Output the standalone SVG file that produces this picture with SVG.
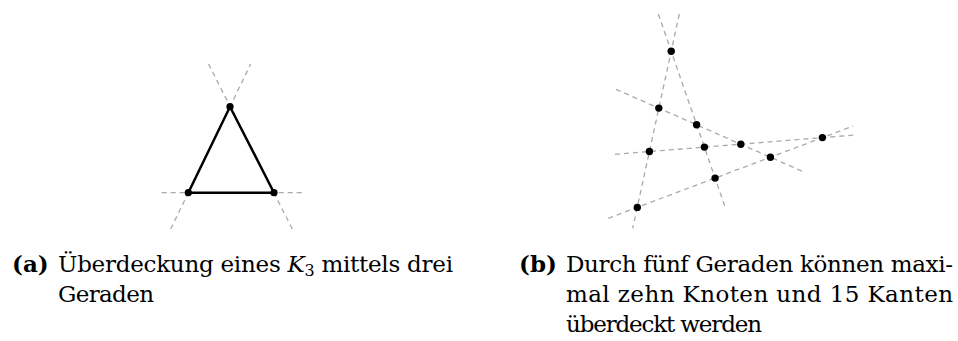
<svg xmlns="http://www.w3.org/2000/svg" width="958" height="341" viewBox="0 0 958 341">
<style>
.dash{stroke:#aaaaaa;stroke-width:1.3;stroke-dasharray:5 4;fill:none}
.edge{stroke:#000;stroke-width:2.5;fill:none;stroke-linejoin:round}
.node{fill:#000}
.cap{font-family:'DejaVu Serif',serif;font-size:23px;fill:#000}
.lab{font-weight:bold}
</style>
<rect width="958" height="341" fill="#fff"/>
<g id="connectors">
  <line class="dash" x1="170.7" y1="229" x2="250.7" y2="64"/>
  <line class="dash" x1="292.3" y1="229" x2="208.5" y2="64"/>
  <line class="dash" x1="161.7" y1="192.7" x2="305" y2="192.7"/>
  <polygon class="edge" points="230,106.7 188.3,192.7 274,192.7"/>
  <line class="dash" x1="679.3" y1="14" x2="632.7" y2="228.3"/>
  <line class="dash" x1="658.3" y1="14" x2="725" y2="206.7"/>
  <line class="dash" x1="616" y1="89.3" x2="803.3" y2="171.7"/>
  <line class="dash" x1="615" y1="154.3" x2="855" y2="135"/>
  <line class="dash" x1="608.3" y1="218.3" x2="853.3" y2="126"/>
</g>
<g id="t1"><circle class="node" cx="230" cy="106.7" r="3.6"/></g>
<g id="t2"><circle class="node" cx="188.3" cy="192.7" r="3.6"/></g>
<g id="t3"><circle class="node" cx="274" cy="192.7" r="3.6"/></g>
<g id="nA"><circle class="node" cx="671.2" cy="51.3" r="3.7"/></g>
<g id="nB"><circle class="node" cx="658.8" cy="108.1" r="3.7"/></g>
<g id="nC"><circle class="node" cx="696.6" cy="124.8" r="3.7"/></g>
<g id="nD"><circle class="node" cx="649.4" cy="151.5" r="3.7"/></g>
<g id="nE"><circle class="node" cx="704.4" cy="147.1" r="3.7"/></g>
<g id="nF"><circle class="node" cx="740.8" cy="144.2" r="3.7"/></g>
<g id="nG"><circle class="node" cx="822.4" cy="137.6" r="3.7"/></g>
<g id="nH"><circle class="node" cx="770.4" cy="157.2" r="3.7"/></g>
<g id="nI"><circle class="node" cx="715.1" cy="178.1" r="3.7"/></g>
<g id="nJ"><circle class="node" cx="637.3" cy="207.4" r="3.7"/></g>
<g id="caption-a" class="cap">
  <text class="lab" x="12" y="272">(a)</text>
  <text x="58" y="272" textLength="395" lengthAdjust="spacing">Überdeckung eines <tspan font-style="italic">K</tspan><tspan font-size="16" dy="4">3</tspan><tspan dy="-4"> mittels drei</tspan></text>
  <text x="58" y="302" textLength="96" lengthAdjust="spacing">Geraden</text>
</g>
<g id="caption-b" class="cap">
  <text class="lab" x="519" y="272">(b)</text>
  <text x="566" y="272" textLength="387" lengthAdjust="spacing">Durch fünf Geraden können maxi-</text>
  <text x="566" y="302" textLength="387" lengthAdjust="spacing">mal zehn Knoten und 15 Kanten</text>
  <text x="566" y="332" textLength="196" lengthAdjust="spacing">überdeckt werden</text>
</g>
</svg>
